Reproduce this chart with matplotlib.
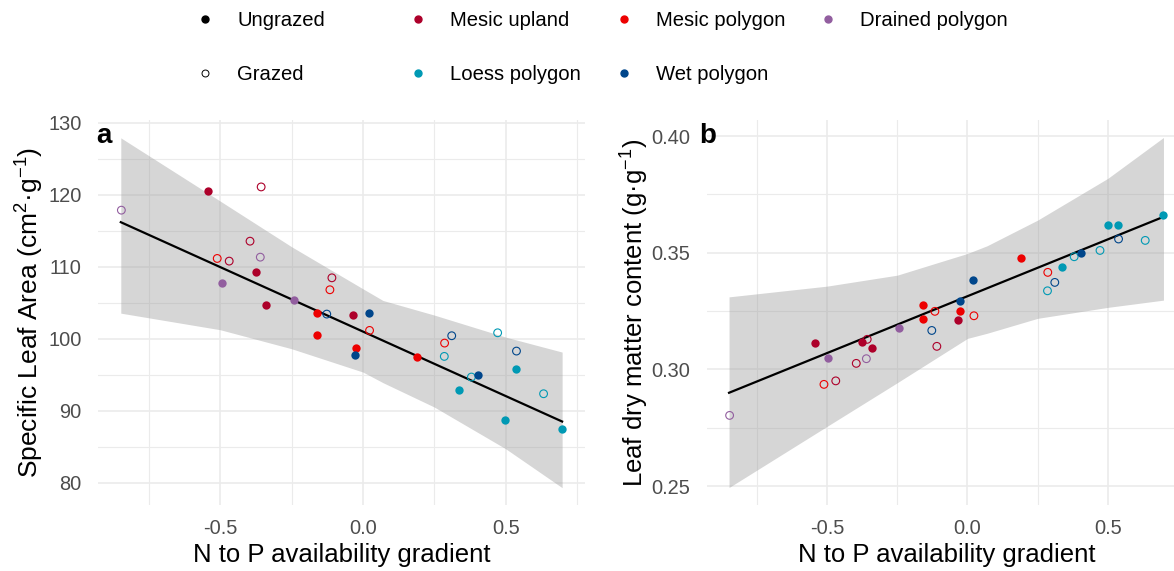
import matplotlib
matplotlib.use("Agg")
import matplotlib.pyplot as plt
from matplotlib.lines import Line2D
from matplotlib.ticker import MultipleLocator, FormatStrFormatter

# site-level data
x_grad = [-0.847, -0.544, -0.495, -0.511, -0.469, -0.396, -0.360, -0.375, -0.357, -0.340,
          -0.243, -0.160, -0.160, -0.116, -0.127, -0.109, -0.034, -0.026, -0.027, 0.021,
          0.023, 0.191, 0.286, 0.311, 0.285, 0.335, 0.380, 0.403, 0.472, 0.499,
          0.537, 0.538, 0.633, 0.697]
habitat = ["Drained polygon", "Mesic upland", "Drained polygon", "Mesic polygon", "Mesic upland",
           "Mesic upland", "Drained polygon", "Mesic upland", "Mesic upland", "Mesic upland",
           "Drained polygon", "Mesic polygon", "Mesic polygon", "Mesic polygon", "Wet polygon",
           "Mesic upland", "Mesic upland", "Mesic polygon", "Wet polygon", "Wet polygon",
           "Mesic polygon", "Mesic polygon", "Mesic polygon", "Wet polygon", "Loess polygon",
           "Loess polygon", "Loess polygon", "Wet polygon", "Loess polygon", "Loess polygon",
           "Loess polygon", "Wet polygon", "Loess polygon", "Loess polygon"]
grazed = [1, 0, 0, 1, 1, 1, 1, 0, 1, 0,
          0, 0, 0, 1, 1, 1, 0, 0, 0, 0,
          1, 0, 1, 1, 1, 0, 1, 0, 1, 0,
          0, 1, 1, 0]
sla = [117.87, 120.56, 107.78, 111.16, 110.79, 113.56, 111.34, 109.31, 121.10, 104.68,
       105.42, 103.56, 100.56, 106.81, 103.43, 108.47, 103.24, 98.70, 97.69, 103.61,
       101.16, 97.41, 99.40, 100.42, 97.55, 92.82, 94.68, 94.91, 100.83, 88.66,
       95.83, 98.29, 92.36, 87.41]
ldmc = [0.2803, 0.3114, 0.3051, 0.2936, 0.2951, 0.3026, 0.3046, 0.3116, 0.3129, 0.3091,
        0.3179, 0.3277, 0.3216, 0.3249, 0.3167, 0.3099, 0.3213, 0.3249, 0.3293, 0.3384,
        0.3230, 0.3479, 0.3416, 0.3373, 0.3337, 0.3440, 0.3483, 0.3497, 0.3510, 0.3617,
        0.3617, 0.3559, 0.3553, 0.3663]

# fitted line and confidence band
fit_x = [-0.849, 0.698]
sla_fit = [116.2, 88.5]
ldmc_fit = [0.2900, 0.3654]

band_x = [-0.849, -0.5, -0.25, 0.0, 0.07, 0.25, 0.5, 0.698]
sla_lo = [103.56, 101.25, 98.61, 95.37, 93.9, 90.51, 84.72, 79.31]
sla_hi = [127.92, 119.12, 112.78, 106.94, 105.32, 103.29, 100.23, 98.15]
ldmc_lo = [0.2494, 0.2756, 0.2943, 0.3133, 0.3155, 0.3219, 0.3266, 0.3297]
ldmc_hi = [0.3311, 0.3357, 0.3404, 0.3497, 0.3530, 0.3640, 0.3819, 0.3994]

habitats = ["Mesic upland", "Mesic polygon", "Drained polygon", "Loess polygon", "Wet polygon"]
colors = {"Mesic upland": "#AD002A", "Mesic polygon": "#ED0000", "Drained polygon": "#925E9F",
          "Loess polygon": "#0099B4", "Wet polygon": "#00468B"}

plt.rcParams["font.family"] = ["Liberation Sans", "DejaVu Sans"]
plt.rcParams["mathtext.fontset"] = "custom"
plt.rcParams["mathtext.rm"] = "Liberation Sans"
plt.rcParams["mathtext.it"] = "Liberation Sans:italic"
plt.rcParams["axes.unicode_minus"] = False

W, H = 1174, 571
fig = plt.figure(figsize=(W / 100, H / 100), dpi=100)
ax_a = fig.add_axes([98.4 / W, 1 - 505 / H, 486.4 / W, 385 / H])
ax_b = fig.add_axes([707 / W, 1 - 505 / H, 478.8 / W, 385 / H])


def draw_panel(ax, y, fit, lo, hi):
    ax.fill_between(band_x, lo, hi, color="#999999", alpha=0.4, linewidth=0, zorder=2)
    ax.plot(fit_x, fit, color="black", lw=1.6, zorder=3)
    for h in habitats:
        for g in (0, 1):
            xs = [x_grad[i] for i in range(len(x_grad)) if habitat[i] == h and grazed[i] == g]
            ys = [y[i] for i in range(len(x_grad)) if habitat[i] == h and grazed[i] == g]
            if g == 0:
                ax.scatter(xs, ys, s=36, color=colors[h], linewidths=0, zorder=4)
            else:
                ax.scatter(xs, ys, s=31, facecolors="none", edgecolors=colors[h],
                           linewidths=0.8, zorder=4)
    ax.set_xlim(-0.9275, 0.7775)
    ax.xaxis.set_major_locator(MultipleLocator(0.5))
    ax.xaxis.set_minor_locator(MultipleLocator(0.25))
    ax.grid(which="major", color="#EBEBEB", lw=1.2, zorder=0)
    ax.grid(which="minor", color="#EBEBEB", lw=0.8, zorder=0)
    ax.set_axisbelow(True)
    for s in ax.spines.values():
        s.set_visible(False)
    ax.tick_params(which="both", length=0, labelsize=14.4, labelcolor="#4D4D4D")
    ax.tick_params(axis="y", pad=12)
    ax.tick_params(axis="x", pad=10)
    ax.set_xlabel("N to P availability gradient", fontsize=18.5, labelpad=4)


draw_panel(ax_a, sla, sla_fit, sla_lo, sla_hi)
ax_a.set_ylim(76.9, 130.4)
ax_a.yaxis.set_major_locator(MultipleLocator(10))
ax_a.yaxis.set_minor_locator(MultipleLocator(5))
ax_a.set_ylabel("Specific Leaf Area (cm$^{2}$·g$^{-1}$)", fontsize=19, labelpad=2)

draw_panel(ax_b, ldmc, ldmc_fit, ldmc_lo, ldmc_hi)
ax_b.set_ylim(0.2419, 0.4069)
ax_b.yaxis.set_major_locator(MultipleLocator(0.05))
ax_b.yaxis.set_minor_locator(MultipleLocator(0.025))
ax_b.yaxis.set_major_formatter(FormatStrFormatter("%.2f"))
ax_b.set_ylabel("Leaf dry matter content (g·g$^{-1}$)", fontsize=18.5, labelpad=0)

fig.text(96 / W, 1 - 143 / H, "a", fontsize=20, fontweight="bold")
fig.text(699 / W, 1 - 143 / H, "b", fontsize=20, fontweight="bold")

# legends
graze_handles = [
    Line2D([], [], marker="o", ls="none", color="black", markersize=5),
    Line2D([], [], marker="o", ls="none", markerfacecolor="none", markeredgecolor="black",
           markersize=5, markeredgewidth=0.7),
]
fig.legend(graze_handles, ["Ungrazed", "Grazed"], loc="upper left",
           bbox_to_anchor=(195 / W, 1 - 11 / H), frameon=False, fontsize=14.6,
           handlelength=1.0, handletextpad=1.08, labelspacing=1.75,
           borderpad=0, borderaxespad=0)
order = ["Mesic upland", "Loess polygon", "Mesic polygon", "Wet polygon", "Drained polygon"]
hab_handles = [Line2D([], [], marker="o", ls="none", color=colors[h], markersize=5) for h in order]
fig.legend(hab_handles, order, loc="upper left", ncol=3,
           bbox_to_anchor=(408 / W, 1 - 11 / H), frameon=False, fontsize=14.6,
           handlelength=1.0, handletextpad=1.08, labelspacing=1.75,
           columnspacing=1.6, borderpad=0, borderaxespad=0)

fig.savefig("out.png", dpi=100)
